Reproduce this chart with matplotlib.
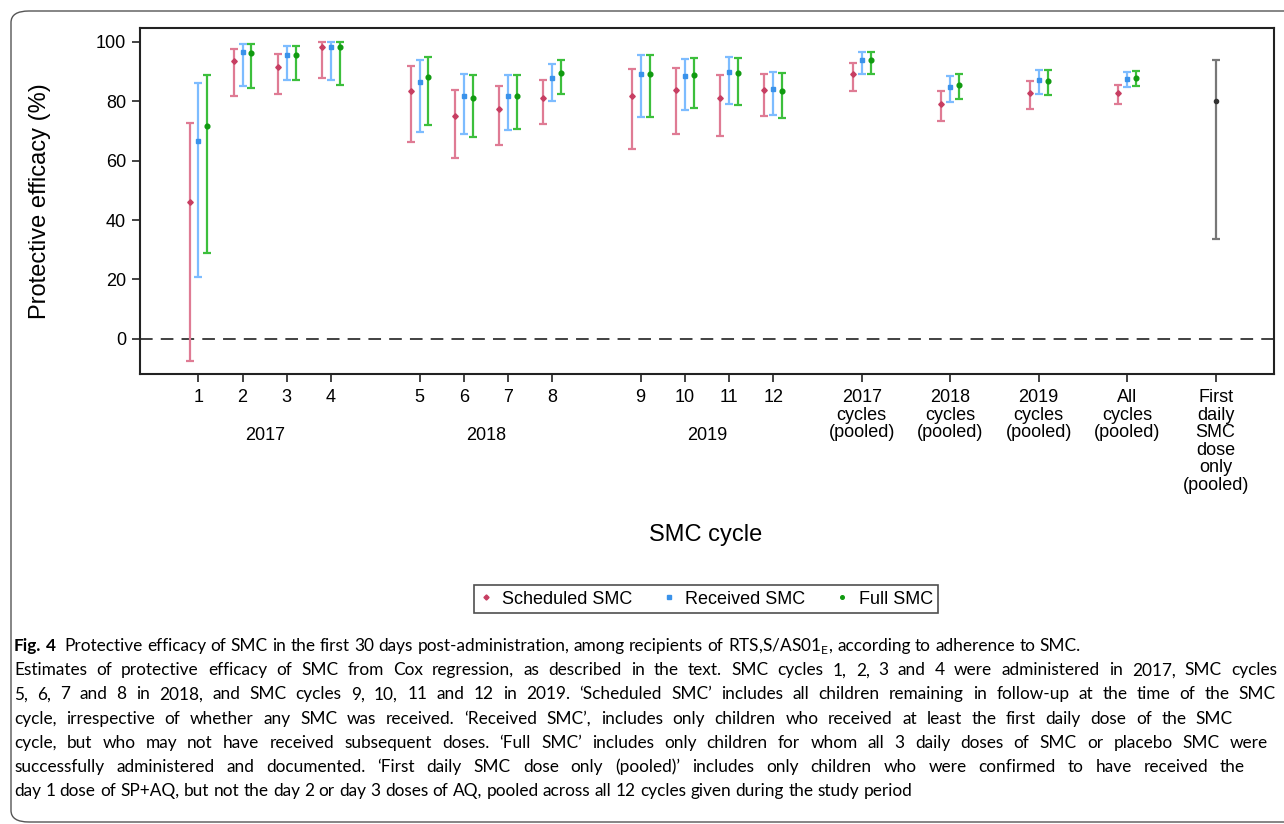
import numpy as np
import matplotlib
matplotlib.use("Agg")
import matplotlib.pyplot as plt
from matplotlib.lines import Line2D
from matplotlib.patches import FancyBboxPatch

plt.rcParams['font.family'] = ['Liberation Sans', 'DejaVu Sans']
plt.rcParams['mathtext.fontset'] = 'custom'
plt.rcParams['mathtext.rm'] = 'Lato'

# categorias do eixo x
cycle_labels = ['1', '2', '3', '4', '5', '6', '7', '8', '9', '10', '11', '12',
                '2017\ncycles\n(pooled)', '2018\ncycles\n(pooled)',
                '2019\ncycles\n(pooled)', 'All\ncycles\n(pooled)',
                'First\ndaily\nSMC\ndose\nonly\n(pooled)']
years = ['2017', '2018', '2019']

# eficacia protetora (%) e IC 95%
sched_est = [45.9, 93.4, 91.5, 98.3, 83.4, 74.9, 77.3, 80.9, 81.6, 83.6, 81.0, 83.6, 89.1, 79.0, 82.7, 82.6]
sched_lo = [-7.3, 81.8, 82.5, 87.8, 66.2, 60.7, 65.3, 72.3, 63.9, 69.1, 68.1, 75.0, 83.4, 73.4, 77.3, 79.2]
sched_hi = [72.6, 97.6, 96.0, 99.9, 91.8, 83.9, 85.1, 87.0, 90.7, 91.1, 88.7, 89.2, 92.8, 83.4, 86.9, 85.3]

recv_est = [66.6, 96.4, 95.4, 98.3, 86.3, 81.6, 81.7, 87.8, 89.0, 88.3, 89.7, 84.1, 93.7, 84.6, 87.0, 87.5]
recv_lo = [20.8, 85.1, 87.2, 87.2, 69.7, 69.0, 70.3, 80.1, 74.5, 77.0, 79.2, 75.2, 89.0, 79.8, 82.3, 84.7]
recv_hi = [86.1, 99.2, 98.4, 99.9, 93.7, 89.0, 88.9, 92.5, 95.4, 94.3, 94.8, 89.8, 96.4, 88.3, 90.5, 89.8]

full_est = [71.5, 96.3, 95.4, 98.1, 88.1, 80.9, 81.8, 89.6, 89.0, 88.8, 89.3, 83.4, 93.8, 85.4, 86.9, 87.8]
full_lo = [28.9, 84.5, 87.1, 85.4, 72.1, 68.0, 70.5, 82.4, 74.5, 77.7, 78.8, 74.2, 89.1, 80.6, 82.2, 85.0]
full_hi = [88.7, 99.2, 98.4, 99.9, 94.9, 88.7, 88.9, 93.7, 95.4, 94.4, 94.6, 89.3, 96.5, 89.0, 90.4, 90.0]

first_est = [79.9]
first_lo = [33.7]
first_hi = [93.9]

caption = [
    "Fig. 4 Protective efficacy of SMC in the first 30 days post-administration, among recipients of RTS,S/AS01$_\\mathrm{E}$, according to adherence to SMC.",
    "Estimates of protective efficacy of SMC from Cox regression, as described in the text. SMC cycles 1, 2, 3 and 4 were administered in 2017, SMC cycles",
    "5, 6, 7 and 8 in 2018, and SMC cycles 9, 10, 11 and 12 in 2019. \u2018Scheduled SMC\u2019 includes all children remaining in follow-up at the time of the SMC",
    "cycle, irrespective of whether any SMC was received. \u2018Received SMC\u2019, includes only children who received at least the first daily dose of the SMC",
    "cycle, but who may not have received subsequent doses. \u2018Full SMC\u2019 includes only children for whom all 3 daily doses of SMC or placebo SMC were",
    "successfully administered and documented. \u2018First daily SMC dose only (pooled)\u2019 includes only children who were confirmed to have received the",
    "day 1 dose of SP+AQ, but not the day 2 or day 3 doses of AQ, pooled across all 12 cycles given during the study period",
]
# fim de cada linha (px); None = espacamento natural
caption_end = [None, 1277, 1276, 1233, 1268, 1245, None]

##############################################

# posicoes: ciclos com espaco entre anos, pooled de 2 em 2
xpos = np.array([1, 2, 3, 4, 6, 7, 8, 9, 11, 12, 13, 14, 16, 18, 20, 22, 24], dtype=float)
year_x = [2.5, 7.5, 12.5]
n = len(sched_est)
off = 0.2

W, H = 1284, 824
fig = plt.figure(figsize=(W / 100, H / 100), dpi=100)
ax = fig.add_axes([140 / W, 1 - 374 / H, (1274 - 140) / W, (374 - 28) / H])

series = [
    (sched_est, sched_lo, sched_hi, -off, '#df7b94', '#c73e62', 'D', 2.8, 'Scheduled SMC'),
    (recv_est, recv_lo, recv_hi, 0.0, '#7dbcff', '#3a92ea', 's', 3.4, 'Received SMC'),
    (full_est, full_lo, full_hi, off, '#3cbf3c', '#109a10', 'o', 3.4, 'Full SMC'),
]

handles = []
for est, lo, hi, dx, lc, mc, mk, ms, lab in series:
    est = np.array(est)
    yerr = [est - np.array(lo), np.array(hi) - est]
    ax.errorbar(xpos[:n] + dx, est, yerr=yerr, fmt='none', ecolor=lc,
                elinewidth=1.6, capsize=2.6, capthick=1.6, zorder=3)
    ax.plot(xpos[:n] + dx, est, linestyle='none', marker=mk, ms=ms,
            color=mc, zorder=4)
    handles.append(Line2D([], [], linestyle='none', marker=mk, ms=2.6,
                          color=mc, label=lab))

fe = np.array(first_est)
ax.errorbar(xpos[n:], fe, yerr=[fe - np.array(first_lo), np.array(first_hi) - fe],
            fmt='none', ecolor='#777777', elinewidth=1.6, capsize=2.6,
            capthick=1.6, zorder=3)
ax.plot(xpos[n:], fe, linestyle='none', marker='o', ms=3, color='#333333', zorder=4)

ax.axhline(0, color='#333333', lw=1.3, linestyle=(0, (7, 4.5)), zorder=2)

ax.set_xlim(-0.32, 25.32)
ax.set_ylim(-11.8, 104.6)
ax.set_yticks([0, 20, 40, 60, 80, 100])
ax.set_xticks(xpos)
ax.set_xticklabels(cycle_labels, linespacing=1.04, va='top')
ax.tick_params(axis='both', direction='out', length=6, width=1.2,
               labelsize=13, color='#222222')
ax.tick_params(axis='x', pad=5)
ax.tick_params(axis='y', pad=4)
for s in ax.spines.values():
    s.set_linewidth(1.5)
    s.set_color('#222222')

for yx, yl in zip(year_x, years):
    ax.annotate(yl, xy=(yx, 0), xycoords=('data', 'axes fraction'),
                xytext=(0, -62), textcoords='offset pixels',
                ha='center', va='center', fontsize=13)

fig.text(706 / W, 1 - 535 / H, 'SMC cycle', ha='center', va='center', fontsize=17)
fig.text(40 / W, 1 - 201 / H, 'Protective efficacy (%)', ha='center', va='center',
         rotation=90, fontsize=17)

leg = fig.legend(handles=handles, loc='center', bbox_to_anchor=(706 / W, 1 - 599 / H),
                 ncol=3, fontsize=13, frameon=True, fancybox=False,
                 handlelength=0.7, handletextpad=0.55, columnspacing=1.7,
                 borderpad=0.3, borderaxespad=0)
leg.get_frame().set_edgecolor('#222222')
leg.get_frame().set_linewidth(1.2)

# moldura arredondada da figura
frame = FancyBboxPatch((11 / W, 2 / H), 1.2, (H - 13) / H,
                       boxstyle='round,pad=0,rounding_size=0.014',
                       transform=fig.transFigure, fill=False,
                       edgecolor='#555555', lw=1.0, clip_on=False)
fig.patches.append(frame)

# texto da legenda da figura, palavra por palavra
cap_font = 'Lato'
cap_size = 12.4
y0 = 646
dy = 24.2
renderer = fig.canvas.get_renderer()


def text_w(s, **kw):
    t = fig.text(0, 0, s, fontsize=cap_size, family=cap_font, **kw)
    w = t.get_window_extent(renderer).width
    t.remove()
    return w


space_w = text_w('x x') - text_w('xx')

for i, line in enumerate(caption):
    words = line.split(' ')
    ypix = 1 - (y0 + i * dy) / H
    items = []
    for j, w in enumerate(words):
        bold = (i == 0 and j < 2)
        t = fig.text(0, ypix, w, ha='left', va='center', fontsize=cap_size,
                     family=cap_font, fontweight='bold' if bold else 'normal')
        items.append((t, t.get_window_extent(renderer).width))
    if caption_end[i] is None:
        gap = space_w
    else:
        total = sum(wd for _, wd in items)
        gap = (caption_end[i] - 14 - total) / (len(items) - 1)
    x = 14.0
    for j, (t, wd) in enumerate(items):
        t.set_x(x / W)
        x += wd + gap
        if i == 0 and j == 1:
            x += space_w

fig.savefig('out.png', dpi=100)
